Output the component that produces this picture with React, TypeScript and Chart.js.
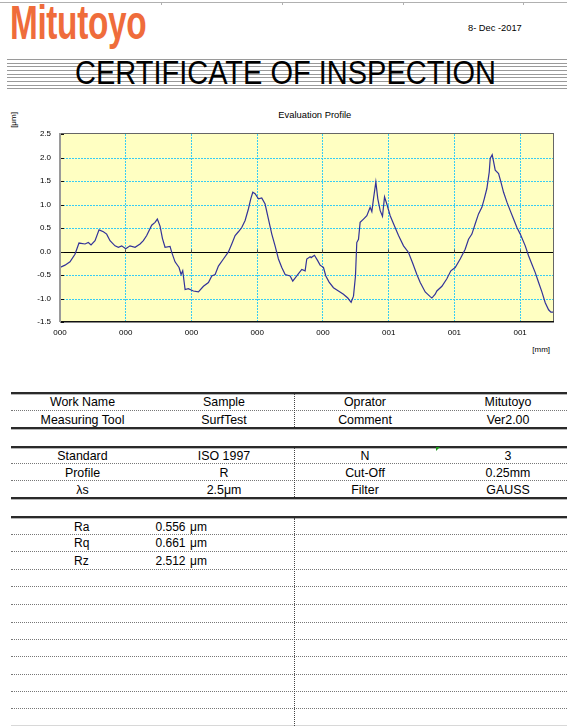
import React, { useEffect, useRef } from "react";
import { Chart, registerables } from "chart.js";

Chart.register(...registerables);

const FONT = "Arial, 'Liberation Sans', Helvetica, sans-serif";

// ---- Evaluation profile data (position in mm, height in μm) ----
const profileX = [
  0, 0.0076, 0.0152, 0.0228, 0.0289, 0.0381, 0.0431, 0.0472, 0.0533, 0.0594,
  0.066, 0.071, 0.0761, 0.0837, 0.0888, 0.0939, 0.1, 0.1065, 0.1142, 0.1218,
  0.1268, 0.1319, 0.1395, 0.1446, 0.1481, 0.1522, 0.1558, 0.1598, 0.1674, 0.17,
  0.175, 0.1811, 0.1842, 0.1867, 0.1903,
  0.1953, 0.2029, 0.2106, 0.2182, 0.2258, 0.2309, 0.236, 0.241, 0.2486, 0.2562,
  0.2613, 0.2664, 0.2714, 0.2765, 0.2816, 0.2867, 0.2902, 0.2933, 0.2968, 0.3019,
  0.3069, 0.312, 0.3171, 0.3222, 0.3272, 0.3323, 0.3374, 0.3425, 0.3501, 0.3541,
  0.3602, 0.3678, 0.3729, 0.3754, 0.3805,
  0.382, 0.3871, 0.3922, 0.3957, 0.4008, 0.4044, 0.4094, 0.416, 0.4236, 0.4312,
  0.4378, 0.4429, 0.4465, 0.4495, 0.4515, 0.4541, 0.4566, 0.4617, 0.4668, 0.4718,
  0.4744, 0.4769, 0.4805, 0.4835, 0.4871, 0.4906, 0.4937, 0.4972, 0.5023, 0.5074,
  0.515, 0.5226, 0.5302, 0.5363, 0.5429, 0.548, 0.5556, 0.5632, 0.5657, 0.5708,
  0.5733, 0.581, 0.5885, 0.5946, 0.6012, 0.6088, 0.6164, 0.6215, 0.6266, 0.6317,
  0.6367, 0.6418, 0.6454, 0.6494, 0.653, 0.6545, 0.6575, 0.6596, 0.6621, 0.6672,
  0.6707, 0.6748, 0.6799, 0.6849, 0.69, 0.6951, 0.7002, 0.7078, 0.7128, 0.7179,
  0.723, 0.7281, 0.7331, 0.7382, 0.7433, 0.7468, 0.7509,
];
const profileY = [
  -0.34, -0.29, -0.22, -0.06, 0.18, 0.16, 0.19, 0.14, 0.23, 0.46,
  0.42, 0.37, 0.23, 0.12, 0.09, 0.12, 0.06, 0.12, 0.09, 0.16,
  0.23, 0.34, 0.56, 0.62, 0.69, 0.54, 0.28, 0.09, 0.11, -0.02,
  -0.22, -0.34, -0.49, -0.41, -0.81,
  -0.79, -0.84, -0.86, -0.74, -0.66, -0.52, -0.49, -0.31, -0.16, -0.01,
  0.16, 0.34, 0.42, 0.51, 0.66, 0.91, 1.12, 1.26, 1.23, 1.12,
  1.14, 1.01, 0.69, 0.37, 0.12, -0.16, -0.34, -0.49, -0.52, -0.63,
  -0.52, -0.38, -0.41, -0.16, -0.11,
  -0.13, -0.08, -0.2, -0.29, -0.34, -0.52, -0.65, -0.77, -0.84, -0.91,
  -0.99, -1.08, -0.95, -0.52, 0.19, 0.26, 0.62, 0.69, 0.76, 0.94,
  0.85, 1.12, 1.48, 1.12, 0.87, 0.75, 1.16, 1.01, 0.76, 0.59,
  0.34, 0.12, -0.02, -0.24, -0.49, -0.66, -0.86, -0.96, -0.99, -0.91,
  -0.84, -0.74, -0.58, -0.41, -0.34, -0.16, 0.05, 0.26, 0.37, 0.59,
  0.8, 0.94, 1.12, 1.34, 1.69, 1.98, 2.06, 1.91, 1.73, 1.66,
  1.48, 1.26, 1.05, 0.87, 0.69, 0.51, 0.37, 0.12, -0.09, -0.27,
  -0.45, -0.66, -0.86, -1.09, -1.24, -1.29, -1.29,
];

const X_MIN = 0;
const X_MAX = 0.75;
const X_STEP = 0.1;
const Y_MIN = -1.5;
const Y_MAX = 2.5;
const Y_STEP = 0.5;

const chartTitle = "Evaluation Profile";
const yUnit = "[μm]";
const xUnit = "[mm]";

// ---- Certificate texts ----
const companyName = "Mitutoyo";
const certDate = "8- Dec -2017";
const certTitle = "CERTIFICATE OF INSPECTION";

const headerRows = [
  ["Work Name", "Sample", "Oprator", "Mitutoyo"],
  ["Measuring Tool", "SurfTest", "Comment", "Ver2.00"],
];
const conditionRows = [
  ["Standard", "ISO 1997", "N", "3"],
  ["Profile", "R", "Cut-Off", "0.25mm"],
  ["λs", "2.5μm", "Filter", "GAUSS"],
];
const resultNames = ["Ra", "Rq", "Rz"];
const resultValues = ["0.556", "0.661", "2.512"];
const resultUnit = "μm";

const COLS = [82.5, 224, 365, 508];

const framePlugin = {
  id: "frame",
  beforeDatasetsDraw(chart: any) {
    const { ctx, chartArea: a, scales } = chart;
    const x = scales.x;
    const y = scales.y;
    ctx.save();
    ctx.fillStyle = "#FFFFC2";
    ctx.fillRect(a.left, a.top, a.right - a.left, a.bottom - a.top);
    ctx.strokeStyle = "#38CCF4";
    ctx.lineWidth = 1;
    ctx.setLineDash([2, 1]);
    y.ticks.forEach((t: any) => {
      if (t.value === 0 || t.value <= Y_MIN || t.value >= Y_MAX) return;
      const py = Math.round(y.getPixelForValue(t.value)) + 0.5;
      ctx.beginPath();
      ctx.moveTo(a.left, py);
      ctx.lineTo(a.right, py);
      ctx.stroke();
    });
    x.ticks.forEach((t: any) => {
      if (t.value <= X_MIN) return;
      const px = Math.floor(x.getPixelForValue(t.value)) + 0.5;
      ctx.beginPath();
      ctx.moveTo(px, a.top);
      ctx.lineTo(px, a.bottom);
      ctx.stroke();
    });
    ctx.setLineDash([]);
    // zero line
    const pz = Math.round(y.getPixelForValue(0)) + 0.5;
    ctx.strokeStyle = "#000";
    ctx.beginPath();
    ctx.moveTo(a.left, pz);
    ctx.lineTo(a.right, pz);
    ctx.stroke();
    // x axis tick marks on zero line
    ctx.strokeStyle = "#555";
    x.ticks.forEach((t: any) => {
      const px = Math.floor(x.getPixelForValue(t.value)) + 0.5;
      ctx.beginPath();
      ctx.moveTo(px, pz - 3);
      ctx.lineTo(px, pz);
      ctx.stroke();
    });
    ctx.restore();
  },
  afterDatasetsDraw(chart: any) {
    const { ctx, chartArea: a, scales } = chart;
    const y = scales.y;
    ctx.save();
    // top & right
    ctx.fillStyle = "#666";
    ctx.fillRect(a.left, a.top - 1, a.right - a.left + 1, 1);
    ctx.fillRect(a.right, a.top - 1, 1, a.bottom - a.top + 1);
    // bottom
    ctx.fillStyle = "#111";
    ctx.fillRect(a.left, a.bottom - 1, a.right - a.left + 1, 1.5);
    // left
    ctx.fillStyle = "#9a9a9a";
    ctx.fillRect(a.left - 1, a.top - 1, 2, a.bottom - a.top + 1);
    // inner ticks on left axis
    ctx.fillStyle = "#111";
    y.ticks.forEach((t: any) => {
      const py = Math.round(y.getPixelForValue(t.value));
      ctx.fillRect(a.left + 1, py, 3, 1);
    });
    ctx.restore();
  },
};

function Txt(props: {
  x: number;
  y: number;
  size: number;
  children: any;
  center?: boolean;
  style?: any;
}) {
  const { x, y, size, children, center, style } = props;
  const base: any = {
    position: "absolute",
    top: y - 0.49 * size,
    fontSize: size,
    lineHeight: `${size}px`,
    whiteSpace: "nowrap",
    color: "#000",
    fontFamily: FONT,
  };
  if (center) {
    base.left = x - 100;
    base.width = 200;
    base.textAlign = "center";
  } else {
    base.left = x;
  }
  return <div style={{ ...base, ...style }}>{children}</div>;
}

function HLine(props: { y: number; kind: "thick" | "dot" | "light" }) {
  const { y, kind } = props;
  if (kind === "thick") {
    return (
      <>
        <div style={{ position: "absolute", left: 11, top: y, width: 556, height: 2, background: "#2a2a2a" }} />
        <div style={{ position: "absolute", left: 11, top: y + 2, width: 556, height: 1, background: "#b5b5b5" }} />
      </>
    );
  }
  if (kind === "light") {
    return <div style={{ position: "absolute", left: 11, top: y, width: 556, height: 1, background: "#d8d8d8" }} />;
  }
  return <div style={{ position: "absolute", left: 11, top: y, width: 556, height: 0, borderTop: "1px dotted #777" }} />;
}

function VLine(props: { y1: number; y2: number }) {
  return (
    <div
      style={{
        position: "absolute",
        left: 294,
        top: props.y1,
        width: 0,
        height: props.y2 - props.y1,
        borderLeft: "1px dotted #444",
      }}
    />
  );
}

const STRIPES = [59, 63, 66, 70, 74, 77, 81, 85, 88];
const TOP_MARKS = [161, 282, 403, 523];

export default function App() {
  const ref = useRef<HTMLCanvasElement>(null);

  useEffect(() => {
    const canvas = ref.current;
    if (!canvas) return;
    const chart = new Chart(canvas, {
      type: "line",
      data: {
        datasets: [
          {
            data: profileX.map((x, i) => ({ x, y: profileY[i] })),
            borderColor: "#333399",
            borderWidth: 1.2,
            pointRadius: 0,
            tension: 0,
            fill: false,
          },
        ],
      },
      options: {
        animation: false,
        responsive: false,
        devicePixelRatio: 1,
        layout: { padding: { left: 0, right: 14, top: 34, bottom: 23 } },
        plugins: { legend: { display: false }, tooltip: { enabled: false }, title: { display: false } },
        scales: {
          x: {
            type: "linear",
            min: X_MIN,
            max: X_MAX,
            afterFit: (s: any) => {
              s.height = 20;
            },
            grid: { display: false, drawTicks: false },
            border: { display: false },
            ticks: {
              stepSize: X_STEP,
              includeBounds: false,
              autoSkip: false,
              maxRotation: 0,
              minRotation: 0,
              padding: 6,
              color: "#000",
              font: { family: FONT, size: 8 },
              callback: (v: any) => String(Math.round(Math.round(Number(v) * 10) / 10)).padStart(3, "0"),
            },
          },
          y: {
            type: "linear",
            min: Y_MIN,
            max: Y_MAX,
            afterFit: (s: any) => {
              s.width = 60;
            },
            grid: { display: false, drawTicks: false },
            border: { display: false },
            ticks: {
              stepSize: Y_STEP,
              padding: 9,
              color: "#000",
              font: { family: FONT, size: 8 },
              callback: (v: any) => Number(v).toFixed(1),
            },
          },
        },
      },
      plugins: [framePlugin],
    } as any);
    return () => chart.destroy();
  }, []);

  return (
    <div
      style={{
        position: "absolute",
        left: 0,
        top: 0,
        width: 567,
        height: 726,
        overflow: "hidden",
        background: "#fff",
        fontFamily: FONT,
      }}
    >
      {/* top page rule */}
      <div style={{ position: "absolute", left: 0, top: 2, width: 567, height: 1, background: "#b0b0b0" }} />
      {TOP_MARKS.map((x) => (
        <div key={x} style={{ position: "absolute", left: x, top: 3, width: 1, height: 2, background: "#b0b0b0" }} />
      ))}

      {/* logo */}
      <div
        style={{
          position: "absolute",
          left: 10,
          top: 39.3 - 0.8465 * 48,
          fontSize: 48,
          lineHeight: "48px",
          fontWeight: "bold",
          color: "#EF6C3B",
          transform: "scaleX(0.695)",
          transformOrigin: "0 0",
          whiteSpace: "nowrap",
          letterSpacing: -0.5,
        }}
      >
        {companyName}
      </div>

      {/* date */}
      <Txt x={468} y={29} size={9.3}>
        {certDate}
      </Txt>

      {/* title stripes */}
      {STRIPES.map((y) => (
        <div key={y} style={{ position: "absolute", left: 7, top: y, width: 560, height: 1, background: "#9a9a9a" }} />
      ))}
      <div
        style={{
          position: "absolute",
          left: 75,
          top: 85 - 0.8465 * 32.6,
          fontSize: 32.6,
          lineHeight: "32.6px",
          color: "#000",
          transform: "scaleX(0.89)",
          transformOrigin: "0 0",
          whiteSpace: "nowrap",
        }}
      >
        {certTitle}
      </div>

      {/* chart */}
      <Txt x={278.3} y={115} size={9.4}>
        {chartTitle}
      </Txt>
      <div
        style={{
          position: "absolute",
          left: 14 - 20,
          top: 120 - 4,
          width: 40,
          height: 8,
          fontSize: 8,
          lineHeight: "8px",
          textAlign: "center",
          transform: "rotate(-90deg)",
          transformOrigin: "50% 50%",
          whiteSpace: "nowrap",
          color: "#000",
        }}
      >
        {yUnit}
      </div>
      <Txt x={532.3} y={350} size={8}>
        {xUnit}
      </Txt>
      <canvas
        ref={ref}
        width={567}
        height={265}
        style={{ position: "absolute", left: 0, top: 100, width: 567, height: 265 }}
      />

      {/* header table */}
      <HLine y={392} kind="thick" />
      <HLine y={410} kind="dot" />
      <HLine y={427} kind="thick" />
      <VLine y1={394} y2={427} />
      {headerRows.map((row, r) =>
        row.map((cell, c) => (
          <Txt key={`h${r}${c}`} x={COLS[c]} y={[402.5, 420][r]} size={12.4} center>
            {cell}
          </Txt>
        ))
      )}

      {/* conditions table */}
      <HLine y={446} kind="thick" />
      <HLine y={463} kind="dot" />
      <HLine y={480} kind="dot" />
      <HLine y={497} kind="thick" />
      <VLine y1={448} y2={497} />
      <div
        style={{
          position: "absolute",
          left: 436,
          top: 447,
          width: 4,
          height: 4,
          background: "#1a9a1a",
          clipPath: "polygon(0 0, 100% 0, 0 100%)",
        }}
      />
      {conditionRows.map((row, r) =>
        row.map((cell, c) => (
          <Txt key={`c${r}${c}`} x={COLS[c]} y={[456.5, 473.3, 490][r]} size={12.4} center>
            {cell}
          </Txt>
        ))
      )}

      {/* results table */}
      <HLine y={516} kind="thick" />
      {[534, 551, 569, 586, 604, 622, 639, 656, 674, 691, 708].map((y) => (
        <HLine key={y} y={y} kind="dot" />
      ))}
      <HLine y={725} kind="light" />
      <VLine y1={518} y2={726} />
      {resultNames.map((name, i) => (
        <React.Fragment key={name}>
          <Txt x={74} y={[527.3, 543.3, 561][i]} size={12}>
            {name}
          </Txt>
          <Txt x={155.5} y={[527.3, 543.3, 561][i]} size={12}>
            {resultValues[i]}
          </Txt>
          <Txt x={190} y={[527.3, 543.3, 561][i]} size={12}>
            {resultUnit}
          </Txt>
        </React.Fragment>
      ))}
    </div>
  );
}
